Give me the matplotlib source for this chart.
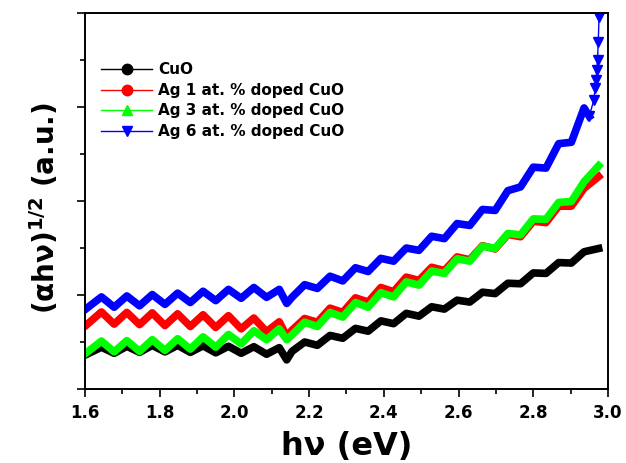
import numpy as np
import matplotlib
matplotlib.use("Agg")
import matplotlib.pyplot as plt
from matplotlib.lines import Line2D
from matplotlib.ticker import MultipleLocator

plt.rcParams['font.family'] = ['DejaVu Sans']
plt.rcParams['font.weight'] = 'bold'
plt.rcParams['mathtext.fontset'] = 'dejavusans'

# photon energy grid (eV), shared by the four samples
energy = [1.605, 1.644, 1.678, 1.712, 1.746, 1.780, 1.814, 1.848, 1.882, 1.916,
          1.950, 1.984, 2.018, 2.052, 2.086, 2.120, 2.140, 2.154, 2.188, 2.222,
          2.256, 2.290, 2.324, 2.358, 2.392, 2.426, 2.460, 2.494, 2.528, 2.562,
          2.596, 2.630, 2.664, 2.698, 2.732, 2.766, 2.800, 2.834, 2.868, 2.902,
          2.936, 2.975]

cuo = [0.74, 0.89, 0.76, 0.91, 0.78, 0.93, 0.79, 0.93, 0.78, 0.92,
       0.77, 0.91, 0.76, 0.90, 0.74, 0.88, 0.62, 0.80, 1.00, 0.93,
       1.14, 1.08, 1.29, 1.23, 1.45, 1.39, 1.61, 1.55, 1.75, 1.70,
       1.89, 1.85, 2.06, 2.03, 2.25, 2.24, 2.47, 2.46, 2.69, 2.68,
       2.92, 2.99]

ag1 = [1.37, 1.64, 1.38, 1.63, 1.37, 1.62, 1.35, 1.60, 1.33, 1.58,
       1.31, 1.56, 1.28, 1.51, 1.22, 1.43, 1.12, 1.25, 1.50, 1.42,
       1.72, 1.63, 1.94, 1.85, 2.16, 2.07, 2.38, 2.31, 2.59, 2.52,
       2.81, 2.75, 3.05, 2.98, 3.29, 3.24, 3.57, 3.54, 3.89, 3.89,
       4.27, 4.52]

ag3 = [0.78, 1.02, 0.79, 1.03, 0.80, 1.05, 0.82, 1.07, 0.85, 1.11,
       0.89, 1.16, 0.96, 1.24, 1.05, 1.28, 1.05, 1.15, 1.42, 1.33,
       1.63, 1.53, 1.84, 1.74, 2.05, 1.96, 2.28, 2.21, 2.51, 2.46,
       2.77, 2.72, 3.04, 2.99, 3.31, 3.28, 3.62, 3.61, 3.97, 3.99,
       4.41, 4.75]

energy_ag6 = energy[:-1] + [2.950, 2.962, 2.966, 2.968, 2.970, 2.972, 2.974, 2.976]
ag6 = [1.72, 1.96, 1.74, 1.98, 1.77, 2.01, 1.80, 2.04, 1.84, 2.08,
       1.88, 2.12, 1.93, 2.16, 1.95, 2.12, 1.82, 1.95, 2.22, 2.14,
       2.40, 2.30, 2.58, 2.50, 2.78, 2.72, 3.00, 2.95, 3.25, 3.20,
       3.52, 3.48, 3.82, 3.80, 4.22, 4.30, 4.72, 4.70, 5.22, 5.25,
       5.98, 5.80, 6.15, 6.40, 6.57, 6.79, 7.00, 7.38, 7.91]
spike = 42  # index where the blue curve turns into separate points

labels = ['CuO', 'Ag 1 at. % doped CuO', 'Ag 3 at. % doped CuO', 'Ag 6 at. % doped CuO']
colors = ['black', 'red', '#00ff00', 'blue']
markers = ['o', 'o', '^', 'v']

fig = plt.figure(figsize=(6.26, 4.63), dpi=100)
ax = fig.add_axes([0.1358, 0.1598, 0.8354, 0.8121])

band = 5.5
ax.plot(energy, cuo, color=colors[0], lw=band)
ax.plot(energy, ag1, color=colors[1], lw=band)
ax.plot(energy, ag3, color=colors[2], lw=band)
ax.plot(energy_ag6[:spike], ag6[:spike], color=colors[3], lw=band)
ax.plot(energy_ag6[spike - 1:], ag6[spike - 1:], color=colors[3], lw=1,
        marker='v', ms=7.5)

ax.set_xlim(1.6, 3.0)
ax.set_ylim(0, 8)
ax.xaxis.set_major_locator(MultipleLocator(0.2))
ax.xaxis.set_minor_locator(MultipleLocator(0.1))
ax.yaxis.set_major_locator(MultipleLocator(2))
ax.yaxis.set_minor_locator(MultipleLocator(1))
ax.set_yticklabels([])
ax.tick_params(which='major', direction='out', length=6, width=1.2, pad=5,
               labelsize=12)
ax.tick_params(which='minor', direction='out', length=3.5, width=1.2)
for lab in ax.get_xticklabels():
    lab.set_fontweight('bold')
for s in ax.spines.values():
    s.set_linewidth(1.4)

ax.set_xlabel('h\u03bd (eV)', fontsize=23, fontweight='bold', labelpad=6)
ax.set_ylabel('(\u03b1h\u03bd)$^{1/2}$ (a.u.)', fontsize=20,
              fontweight='bold', labelpad=14)
ax.yaxis.set_label_coords(-0.045, 0.48)

handles = [Line2D([], [], color=c, lw=1, marker=m, ms=7.5) for c, m in zip(colors, markers)]
ax.legend(handles, labels, loc='upper left', bbox_to_anchor=(0.005, 0.905),
          frameon=False, handlelength=3.3, handletextpad=0.4,
          labelspacing=0.36, prop={'weight': 'bold', 'size': 11})

fig.savefig('out.png', dpi=100)
